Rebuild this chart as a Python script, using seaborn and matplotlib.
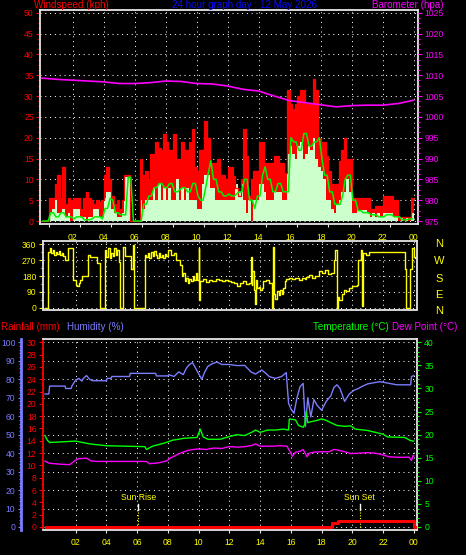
import numpy as np
import matplotlib
matplotlib.use("Agg")
import matplotlib.pyplot as plt
import seaborn as sns
from matplotlib.ticker import MultipleLocator, FixedLocator

# ---------------- data ----------------
hour_ticks = [2, 4, 6, 8, 10, 12, 14, 16, 18, 20, 22, 24]
hour_labels = ["02", "04", "06", "08", "10", "12", "14", "16", "18", "20", "22", "00"]

# 10-minute wind gust (kph)
gust = [0, 0, 0, 5.5, 5.5, 9,
        11, 5.5, 13, 4, 5.5, 5,
        5.5, 5.5, 5.5, 3, 5.5, 7,
        5.5, 5, 4, 5, 4.5, 5,
        11, 13, 10, 6, 4, 5,
        3, 5, 11, 11, 0, 0,
        0, 0, 15, 11, 12, 10,
        16, 16, 19, 17.5, 17, 21,
        19, 17, 17, 21, 15, 15,
        19, 17, 17, 19, 22, 13,
        12, 17, 17, 24, 20, 14,
        14, 14, 15, 11, 11, 10,
        13, 13, 10.7, 8, 6, 10,
        22, 15.5, 6, 10, 12, 12,
        19, 19, 14, 14, 14, 14,
        15.5, 15.5, 14, 14, 11.5, 31.5,
        28, 27, 28, 30, 31.5, 31.5,
        28, 28, 28, 34, 31.5, 20,
        19, 19, 15.5, 12, 9, 9,
        9, 14.5, 17, 20, 15, 15,
        5.5, 5.5, 5.5, 5.5, 5.5, 5.5,
        5.5, 3, 3, 3.5, 3.5, 3.5,
        6, 6, 6, 6, 5, 5,
        1, 1, 1, 1, 1, 5.5]
# 10-minute wind speed (kph)
speed = [0, 0, 0, 2, 3, 5,
         2, 2, 3, 1, 2, 0,
         3, 3, 3, 1, 1, 0,
         1, 1, 3, 3, 1, 1,
         5.5, 7, 7, 3, 2, 1,
         1, 2, 10.5, 10.5, 0, 0,
         0, 0, 5, 3, 5, 5,
         5, 8, 5, 9, 5, 8,
         5, 8, 5, 5, 10, 5,
         8, 5, 8, 5, 5, 5,
         3, 3, 9, 11, 11, 8,
         8, 5, 5, 5, 5, 5,
         5, 5, 5, 9, 7, 9,
         5, 2, 5, 0, 5, 5,
         9, 9, 7, 5, 5, 5,
         7, 7, 7, 5, 5, 16,
         18, 16, 15, 18, 19, 15,
         16, 18, 17, 20, 15, 13,
         12, 10, 5, 5, 3, 2,
         4, 5, 7, 7, 10, 7,
         2, 2, 2.6, 2.6, 2.6, 2.6,
         2, 1, 2, 1, 2, 1,
         2, 2, 2, 2, 1, 1,
         0, 1, 0, 1, 0, 2]
# 10-minute average wind (kph)
avg = [0, 0, 0, 2, 2, 1,
       1, 2, 2, 1, 1, 1,
       0.5, 1, 1, 1, 0.3, 0.3,
       0.3, 0.5, 1, 1, 1, 0.5,
       3, 3, 5.5, 5, 2, 2,
       1.5, 1.5, 1.5, 10.5, 10.5, 0,
       0, 0, 0, 4, 4, 6,
       6, 8, 8, 9, 9, 8,
       8, 9, 9, 7, 7, 7.5,
       8, 8, 7, 7, 9, 9,
       6, 5, 5, 8, 11.5, 14.5,
       10, 10, 7, 7, 6, 6,
       6.5, 6, 6, 6.5, 7, 7,
       10, 10, 5, 5, 3, 6,
       6, 11, 13, 10, 10, 7,
       7, 9, 9, 7, 7, 7,
       20, 19, 19, 17, 17, 21,
       21, 18, 18, 19, 19, 20,
       15, 11, 11, 7, 7, 4,
       4, 4, 6, 10, 11, 11,
       5, 5, 2.5, 2.5, 2, 2,
       2, 1.5, 1.5, 1.5, 1, 1,
       1, 1.5, 1.5, 1.5, 1, 1,
       1, 0.3, 0.3, 0.3, 0.5, 0.5]

baro_t = list(range(25))
baro_v = [1009.3, 1009.0, 1008.8, 1008.6, 1008.4, 1008.0, 1008.0, 1008.2, 1008.6,
          1008.5, 1008.0, 1007.9, 1007.4, 1006.6, 1006.2, 1005.0, 1003.9, 1003.4,
          1002.9, 1002.4, 1002.7, 1002.8, 1002.8, 1003.2, 1004.0]

wind_dir = [(0.0, 0), (0.2, 319), (0.3, 340), (0.4, 310), (0.5, 325), (0.6, 300), (0.7, 315),
            (0.8, 305), (0.9, 320), (1.0, 300), (1.1, 310), (1.2, 295), (1.3, 272), (1.5, 337),
            (1.85, 160), (2.0, 131), (2.1, 122), (2.2, 140), (2.3, 160), (2.4, 178), (2.8, 300),
            (2.9, 287), (3.4, 253), (3.6, 0), (3.88, 328), (4.0, 290), (4.1, 340), (4.2, 285),
            (4.3, 310), (4.4, 295), (4.5, 340), (4.6, 300), (4.7, 330), (4.8, 262), (4.9, 0),
            (5.1, 347), (5.2, 294), (5.6, 219), (5.75, 356), (5.78, 0), (6.5, 300), (6.6, 290),
            (6.7, 310), (6.8, 285), (6.9, 315), (7.0, 295), (7.1, 320), (7.2, 300), (7.3, 280),
            (7.4, 310), (7.5, 290), (7.6, 300), (7.7, 285), (7.8, 305), (7.9, 295), (8.0, 325),
            (8.2, 300), (8.4, 310), (8.5, 272), (8.8, 240), (8.9, 180), (9.0, 200), (9.1, 150),
            (9.2, 170), (9.3, 140), (9.4, 165), (9.5, 150), (9.6, 180), (9.7, 155), (9.8, 200),
            (9.9, 160), (10.0, 337), (10.05, 47), (10.1, 150), (10.3, 165), (10.5, 145),
            (10.7, 160), (10.9, 150), (11.1, 165), (11.3, 155), (11.5, 150), (11.7, 160),
            (11.9, 150), (12.1, 145), (12.3, 140), (12.5, 125), (12.7, 140), (12.9, 150),
            (13.1, 135), (13.3, 140), (13.4, 290), (13.45, 130), (13.5, 210), (13.6, 100),
            (13.65, 19), (13.7, 160), (13.8, 110), (13.9, 120), (14.0, 100), (14.1, 115),
            (14.2, 150), (14.4, 155), (14.6, 140), (14.8, 0), (14.85, 347), (14.9, 80),
            (15.0, 50), (15.1, 95), (15.2, 70), (15.3, 100), (15.4, 80), (15.5, 110),
            (15.6, 150), (15.7, 165), (15.9, 170), (16.1, 165), (16.3, 170), (16.5, 160),
            (16.7, 170), (16.9, 165), (17.0, 175), (17.2, 185), (17.4, 170), (17.6, 180),
            (17.8, 210), (18.0, 195), (18.2, 215), (18.4, 190), (18.6, 200), (18.8, 272),
            (18.9, 328), (19.0, 0), (19.05, 60), (19.15, 47), (19.3, 80), (19.45, 103),
            (19.6, 95), (19.8, 110), (20.0, 122), (20.3, 130), (20.4, 272), (20.55, 328),
            (20.62, 9), (20.68, 309), (20.9, 300), (21.1, 319), (21.4, 315), (21.5, 319),
            (23.45, 219), (23.5, 0), (23.75, 219), (23.9, 337), (24.0, 290), (24.1, 281)]

humidity = [(0.0, 72), (0.25, 72), (0.3, 76.3), (1.3, 76.3), (1.35, 75), (1.7, 75), (1.75, 76.3),
            (2.0, 79.6), (2.2, 80.5), (2.4, 79), (2.5, 80.5), (2.7, 82), (2.9, 80), (3.1, 79.2),
            (4.0, 79.2), (4.05, 80.5), (4.3, 80.5), (4.35, 81.5), (5.5, 81.5), (5.55, 83.2),
            (7.2, 83.2), (7.25, 81.8), (8.0, 81.8), (8.05, 82.5), (8.4, 81.5), (8.7, 84),
            (9.0, 82.5), (9.2, 86), (9.4, 88), (9.6, 89), (9.8, 86), (10.0, 83), (10.2, 80),
            (10.4, 84), (10.6, 87), (10.9, 88.5), (11.2, 89.3), (11.5, 88), (12.0, 88),
            (12.5, 87.4), (13.0, 87.5), (13.4, 84), (13.7, 82.8), (14.1, 85), (14.4, 83),
            (14.6, 81.4), (15.0, 80.5), (15.4, 81.5), (15.7, 83.6), (15.85, 67), (16.0, 64),
            (16.2, 61.6), (16.4, 70), (16.6, 76), (16.8, 77.8), (16.95, 54.3), (17.1, 70),
            (17.3, 59.6), (17.5, 69), (17.7, 66), (18.0, 63.2), (18.3, 68), (18.6, 71),
            (18.8, 75.5), (19.0, 77), (19.2, 75), (19.5, 68), (19.8, 72), (20.1, 74),
            (20.4, 75), (20.6, 76), (21.0, 77.5), (21.8, 78.7), (22.9, 77), (23.8, 77),
            (23.85, 81.4), (24.0, 82)]

temperature = [(0.0, 19.8), (0.15, 18.8), (0.3, 18.3), (2.0, 18.6), (2.9, 18.0), (4.0, 17.6),
               (6.5, 17.4), (6.6, 16.8), (7.0, 17.5), (7.8, 18.2), (8.3, 18.8), (8.7, 19.0),
               (9.0, 19.2), (9.9, 19.4), (10.1, 21.2), (10.3, 19.5), (10.6, 19.0), (11.4, 19.0),
               (12.0, 19.6), (12.5, 20.0), (13.0, 19.8), (13.5, 20.6), (13.7, 21.0), (14.0, 20.5),
               (14.5, 21.0), (15.0, 21.0), (15.5, 21.2), (15.85, 21.0), (15.9, 23.4), (16.3, 23.2),
               (16.5, 22.0), (16.8, 21.6), (16.9, 22.2), (17.0, 25.0), (17.1, 22.6), (17.3, 22.8),
               (17.6, 23.0), (18.0, 23.4), (18.3, 23.1), (18.6, 22.6), (19.0, 22.0), (19.5, 21.8),
               (19.9, 21.9), (20.2, 21.2), (21.0, 20.9), (21.5, 20.5), (22.0, 20.1), (22.3, 19.5),
               (23.4, 19.4), (23.8, 18.7), (24.0, 18.6)]

dew_point = [(0.0, 14.3), (0.15, 14.0), (0.3, 13.8), (1.0, 13.6), (1.6, 13.5), (2.0, 14.5),
             (2.2, 14.8), (2.7, 14.9), (3.0, 14.3), (3.4, 14.2), (6.6, 14.2), (6.8, 13.7),
             (7.4, 13.9), (7.9, 14.3), (8.2, 15.0), (8.8, 16.0), (9.3, 16.6), (9.9, 16.9),
             (10.5, 16.8), (11.0, 17.1), (11.5, 17.0), (12.0, 17.4), (12.5, 17.3), (13.0, 17.4),
             (13.5, 17.7), (13.7, 18.0), (14.0, 17.5), (14.8, 17.5), (15.3, 17.6), (15.75, 17.5),
             (16.0, 16.0), (16.1, 15.3), (16.3, 16.2), (16.6, 16.4), (16.8, 16.8), (17.05, 15.2),
             (17.2, 16.0), (17.5, 16.2), (18.0, 16.3), (18.5, 16.3), (18.8, 16.8), (19.0, 16.7),
             (19.5, 16.3), (19.9, 15.9), (20.5, 16.0), (21.0, 16.1), (21.5, 16.0), (22.0, 15.6),
             (22.4, 15.2), (23.0, 15.1), (23.7, 15.1), (23.85, 14.4), (23.95, 15.5), (24.0, 15.4)]

rain_t = [0.05, 18.7, 19.1, 24.0, 24.05]
rain_v = [0, 0.6, 0.9, 0, 0]

sun_events = [("Sun Rise", 6.08), ("Sun Set", 20.48)]

wind_ticks = list(range(0, 51, 5))
baro_ticks = list(range(975, 1026, 5))
dir_ticks = [0, 90, 180, 270, 360]
rain_ticks = list(range(0, 31, 2))
hum_ticks = list(range(0, 101, 10))
temp_ticks = list(range(0, 41, 5))
compass = ["N", "W", "S", "E", "N"]

# ---------------- style ----------------
plt.rcParams['font.family'] = ['Liberation Sans', 'DejaVu Sans']
plt.rcParams['axes.unicode_minus'] = False

W, H = 466, 555
fig = plt.figure(figsize=(W / 100, H / 100), dpi=100, facecolor='black')


def rect(l, t, r, b):
    return [l / W, 1 - b / H, (r - l) / W, (b - t) / H]


FRAME = '#e6e6e6'
DOT = (0, (1, 3.8))
TS = 6.2
RED = '#ff0000'
MAG = '#ff00ff'
YEL = '#ffff00'
HUM = '#7c7cff'
GRN = '#00ee00'


def frame(ax, left_color=FRAME):
    ax.set_facecolor('black')
    for s in ['top', 'right', 'bottom']:
        ax.spines[s].set_color(FRAME)
        ax.spines[s].set_linewidth(1.3)
    ax.spines['left'].set_color(left_color)
    ax.spines['left'].set_linewidth(1.3)
    ax.set_xlabel('')
    ax.set_ylabel('')


def hide_spines(ax):
    for s in ax.spines.values():
        s.set_visible(False)


# ---------------- panel 1: wind / barometer ----------------
ax1 = fig.add_axes(rect(40, 10, 417.5, 224))
frame(ax1)
edges = np.arange(len(gust) + 1) / 6.0
g_ext = gust + [gust[-1]]
s_ext = speed + [speed[-1]]
mids = edges[:-1] + 1 / 12
ax1.fill_between(edges, 0, g_ext, step='post', color=RED, lw=0, zorder=1)
ax1.fill_between(edges, 0, s_ext, step='post', color='#ccffcc', lw=0, zorder=1.5)
sns.lineplot(x=edges, y=g_ext, ax=ax1, drawstyle='steps-post', color=RED, lw=0.9,
             estimator=None, sort=False, zorder=2)
sns.lineplot(x=mids, y=avg, ax=ax1, color=GRN, lw=1.1, estimator=None, sort=False, zorder=3)
ax1.set_xlim(-0.11, 24.25)
ax1.set_ylim(-0.72, 50.65)
ax1.set_yticks(wind_ticks)
ax1.yaxis.set_minor_locator(MultipleLocator(1.25))
ax1.tick_params(axis='y', which='both', colors=RED, labelsize=TS, direction='out', width=0.8)
ax1.tick_params(axis='y', which='major', length=3, pad=1.5)
ax1.tick_params(axis='y', which='minor', length=1.5)
ax1.set_xticks(hour_ticks)
ax1.set_xticklabels(hour_labels)
ax1.xaxis.set_minor_locator(FixedLocator([t - 1.5 for t in hour_ticks]))
ax1.tick_params(axis='x', which='major', length=0, pad=6.5, labelcolor=YEL, labelsize=TS)
ax1.tick_params(axis='x', which='minor', length=2.5, color=FRAME, width=0.8)
ax1.grid(True, which='major', color='white', linestyle=DOT, linewidth=0.72)
ax1.set_axisbelow(True)
ax1.set_xlabel('')
ax1.set_ylabel('')

ax1b = ax1.twinx()
sns.lineplot(x=baro_t, y=baro_v, ax=ax1b, color=MAG, lw=1.2, estimator=None, sort=False)
ax1b.set_ylim(975 - 0.72, 1025 + 0.65)
ax1b.set_yticks(baro_ticks)
ax1b.yaxis.set_minor_locator(MultipleLocator(1.25))
ax1b.tick_params(axis='y', which='both', colors=MAG, labelsize=TS, direction='out', width=0.8)
ax1b.tick_params(axis='y', which='major', length=3, pad=2)
ax1b.tick_params(axis='y', which='minor', length=1.5)
ax1b.set_ylabel('')
hide_spines(ax1b)

# ---------------- panel 2: wind direction ----------------
ax2 = fig.add_axes(rect(42.7, 241, 417.3, 309.5))
frame(ax2)
wd_t = [p[0] for p in wind_dir]
wd_v = [p[1] for p in wind_dir]
sns.lineplot(x=wd_t, y=wd_v, ax=ax2, drawstyle='steps-post', color=YEL, lw=1.0,
             estimator=None, sort=False)
ax2.set_xlim(-0.15, 24.23)
ax2.set_ylim(-9.6, 378.6)
ax2.set_yticks(dir_ticks)
ax2.yaxis.set_minor_locator(MultipleLocator(45))
ax2.tick_params(axis='y', which='both', colors=YEL, labelsize=TS, direction='out', width=0.8)
ax2.tick_params(axis='y', which='major', length=3, pad=1.5)
ax2.tick_params(axis='y', which='minor', length=1.5)
ax2.set_xticks(hour_ticks)
ax2.set_xticklabels([])
ax2.tick_params(axis='x', length=0)
ax2.grid(True, which='major', color='white', linestyle=DOT, linewidth=0.72)
ax2.set_axisbelow(True)
ax2.set_xlabel('')
ax2.set_ylabel('')

# ---------------- panel 3: rain / humidity / temperature ----------------
ax3 = fig.add_axes(rect(42.7, 339, 417.3, 530))
frame(ax3, left_color=RED)
ax3.set_xlim(-0.15, 24.23)
ax3.set_ylim(-0.49, 30.54)
ax3.grid(True, axis='x', which='major', color='white', linestyle=DOT, linewidth=0.72, zorder=0.5)
for h in hum_ticks:
    ax3.axhline(h * 30 / 100, color='white', linestyle=DOT, linewidth=0.72, zorder=0.5)
ax3.set_axisbelow(True)
sns.lineplot(x=rain_t, y=rain_v, ax=ax3, drawstyle='steps-post', color=RED, lw=2.2,
             estimator=None, sort=False, zorder=3)
ax3.set_yticks(rain_ticks)
ax3.yaxis.set_minor_locator(MultipleLocator(1))
ax3.tick_params(axis='y', which='both', colors=RED, labelsize=TS, direction='out', width=0.8)
ax3.tick_params(axis='y', which='major', length=3, pad=1.5)
ax3.tick_params(axis='y', which='minor', length=1.5)
ax3.set_xticks(hour_ticks)
ax3.set_xticklabels(hour_labels)
ax3.tick_params(axis='x', which='major', length=2.5, width=0.8, color=FRAME, pad=3.5,
                labelcolor=YEL, labelsize=TS)
ax3.set_xlabel('')
ax3.set_ylabel('')

trans = ax3.get_xaxis_transform()
for name, t in sun_events:
    ax3.text(t, 0.168, name, transform=trans, ha='center', va='center', color=YEL, fontsize=TS)
    ax3.plot([t, t], [0.105, 0.136], transform=trans, color='white', lw=1)
    ax3.plot([t, t], [0.016, 0.105], transform=trans, color=YEL, lw=0.8, linestyle=(0, (1, 1.5)))

ax3h = ax3.twinx()
hum_t = [p[0] for p in humidity]
hum_v = [p[1] for p in humidity]
sns.lineplot(x=hum_t, y=hum_v, ax=ax3h, color=HUM, lw=1.0, estimator=None, sort=False)
ax3h.set_ylim(-0.49 * 100 / 30, 30.54 * 100 / 30)
hide_spines(ax3h)
ax3h.spines['left'].set_visible(True)
ax3h.spines['left'].set_position(('axes', -0.058))
ax3h.spines['left'].set_color(HUM)
ax3h.spines['left'].set_linewidth(2)
ax3h.yaxis.set_ticks_position('left')
ax3h.yaxis.set_label_position('left')
ax3h.set_yticks(hum_ticks)
ax3h.yaxis.set_minor_locator(MultipleLocator(2))
ax3h.tick_params(axis='y', which='both', colors=HUM, labelsize=TS, direction='out', width=0.8)
ax3h.tick_params(axis='y', which='major', length=2.5, pad=1.5)
ax3h.tick_params(axis='y', which='minor', length=1.2)
ax3h.set_ylabel('')

ax3t = ax3.twinx()
tmp_t = [p[0] for p in temperature]
tmp_v = [p[1] for p in temperature]
dew_t = [p[0] for p in dew_point]
dew_v = [p[1] for p in dew_point]
sns.lineplot(x=tmp_t, y=tmp_v, ax=ax3t, color='#00ff00', lw=1.0, estimator=None, sort=False)
sns.lineplot(x=dew_t, y=dew_v, ax=ax3t, color=MAG, lw=1.0, estimator=None, sort=False)
ax3t.set_ylim(-0.49 * 40 / 30, 30.54 * 40 / 30)
hide_spines(ax3t)
ax3t.set_yticks(temp_ticks)
ax3t.yaxis.set_minor_locator(MultipleLocator(1))
ax3t.tick_params(axis='y', which='both', colors='#00ff00', labelsize=TS, direction='out', width=0.8)
ax3t.tick_params(axis='y', which='major', length=3, pad=2)
ax3t.tick_params(axis='y', which='minor', length=1.5)
ax3t.set_ylabel('')

# ---------------- texts ----------------
def ftxt(x, y, s, color, size=7.1, ha='left', va='baseline'):
    fig.text(x / W, 1 - y / H, s, color=color, fontsize=size, ha=ha, va=va)


ftxt(34, 8, 'Windspeed (kph)', RED)
ftxt(171.5, 8, '24 hour graph day : 12 May 2026', '#0a0aff')
ftxt(372, 8, 'Barometer (hpa)', MAG)
ftxt(1, 330.5, 'Rainfall (mm)', RED)
ftxt(67, 330.5, 'Humidity (%)', HUM)
ftxt(313, 330.5, 'Temperature (°C)', '#00ff00')
ftxt(392, 330.5, 'Dew Point (°C)', MAG)
for lab, y in zip(compass, [244.3, 260.7, 278.7, 295.0, 310.7]):
    ftxt(439, y, lab, YEL, size=8, ha='center', va='center')

fig.savefig('out.png', dpi=100, facecolor='black')
